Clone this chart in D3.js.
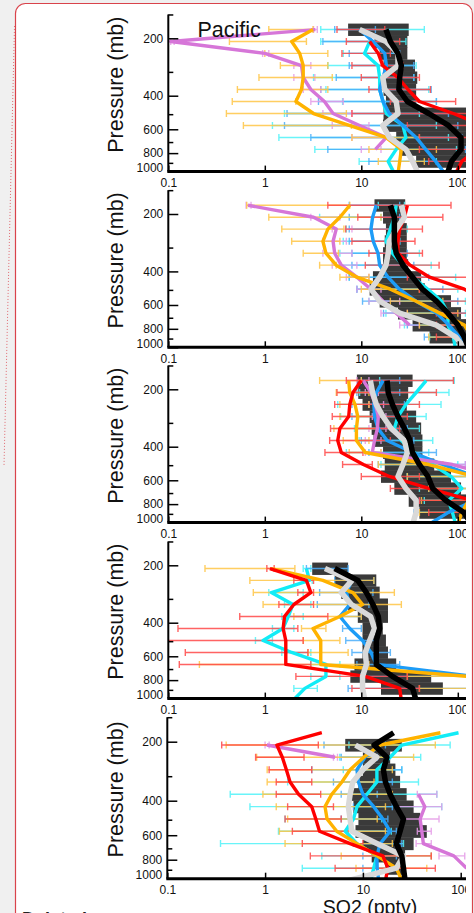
<!DOCTYPE html>
<html>
<head>
<meta charset="utf-8">
<script src="https://cdn.jsdelivr.net/npm/d3@7"></script>
<style>
  html, body { margin: 0; padding: 0; background: #f0f0f0; overflow: hidden; }
  svg { display: block; }
  text { font-family: "Liberation Sans", Arial, Helvetica, sans-serif; }
</style>
</head>
<body>
<svg id="chart" width="474" height="913"></svg>
<script>
'use strict';

// pressure (mb) of the profile levels, top to bottom
const levels = [180, 208, 240, 278, 321, 371, 429, 496, 573, 662, 765, 884, 1022];

const regions = ['Pacific', '', '', '', ''];
const pressureTicks = [200, 400, 600, 800, 1000];
const pressureMinor = [150, 300, 500, 700, 900];
const so2Ticks = [0.1, 1, 10, 100];

// thick black median line, one row per panel (SO2 pptv at each level)
const blackLine = [
  [18, 20, 24, 26, 25, 24.5, 30, 50, 80, 108, 108, 86, 78],
  [20, 22, 22, 22, 23, 27, 34, 43, 60, 79, 100, 117, 130],
  [18.5, 19, 21, 24, 28, 32, 34, 40, 49, 55, 75, 115, 140],
  [null, 5.3, 9.2, 11.3, 13.2, 15, 15.5, 14.3, 14.3, 14.3, 21, 34, 37],
  [20.6, 13, 17.6, 16.2, 17, 19, 22, 26, 24, 22, 25, 26, 27]
];

// thick light grey line
const greyLine = [
  [9.6, 18, 24, 24, 16.7, 17.5, 23, 24, 16.7, 19.5, 29, 34, 39],
  [26, 28, 23, 19.5, 19, 18, 15.5, 12.6, 15.5, 25, 60, 95, 120],
  [12.4, 13.1, 14.3, 16.8, 20.4, 28, 30, 27, 24, 29, 37, 37, 34],
  [null, 4.2, 8, 6.2, 7.9, 12.5, 13.7, 12.2, 11, 11.3, 10.3, 10.3, 10.9],
  [null, 8.4, 13.9, 10, 7.9, 7.4, 7.1, 7.4, 7.7, 13.9, 26, 22, 7]
];

// dark grey boxes: low and high edge per level
const boxLo = [
  [7.3, 13.7, 15.5, 17, 16.8, 17, 18, 17, 16.8, 23, 25, 37],
  [13.7, 16.8, 18, 17.5, 16.8, 16.8, 13.2, 12.2, 15.5, 24, 34, 51],
  [9, 9.3, 10.3, 12.2, 12.8, 13.4, 16.8, 17.5, 16, 22, 31, 40],
  [null, 3.1, 5.3, 6.2, 7.3, 9.2, 10.3, 10.3, 10.3, 8.5, 7.7, 16],
  [null, 6.6, 10, 10, 9, 7.4, 8, 9, 8.4, 10, 12.3, 17]
];
const boxHi = [
  [31, 30, 30, 36, 38, 37, 37, 200, 200, 200, 200, 200],
  [28.5, 27, 29.6, 29.6, 29.6, 30.6, 41.7, 45.5, 85, 108, 200, 200],
  [34, 30.6, 29.6, 37, 41.7, 43, 43, 57, 85, 108, 200, 200],
  [null, 7.3, 14.3, 15.5, 18.9, 18.9, 16.7, 18, 18.9, 23, 53, 70],
  [null, 25, 19, 21.5, 24, 28, 33, 38.6, 45, 33, 27, 26]
];

// coloured profiles
const redLine = [
  [null, 12.2, 15, 16.7, 24, 30.5, 40, 90, 180, 200, 160, 110, 95],
  [30, 28, 25, 24, 24, 32, 51, 117, 200, null, null, null, null],
  [10, 8.2, 7.6, 7.4, 6, 5.7, 6.2, 10.5, 19.5, 50, 140, 160, null],
  [null, 1.13, 2.7, 3.0, 2.0, 1.6, 1.55, 1.65, 1.65, 1.65, 11, 25, 26],
  [3.8, 1.32, 1.5, 1.65, 1.8, 2.2, 3.0, 3.3, 3.6, 7.4, 16, 18, 17]
];
const orangeLine = [
  [3.16, 1.9, 2.3, 2.5, 2.5, 2.4, 2.1, 3.2, 7.5, 18, 26, 25, 24],
  [7.6, 6, 4.5, 4, 4.3, 5.5, 9, 20, 37, 65, 117, 140, null],
  [7.4, 7.6, 8.6, 9.2, 8.9, 8.9, 11, 50, 150, 150, 130, 110, 100],
  [null, 1.17, 4, 8.2, 10.3, 6, 3.16, 3.8, 3.8, 3.8, 130, 150, null],
  [62, 15, 10.2, 7.4, 6.1, 4.8, 4.1, 4.3, 5.4, 8.7, 14, 22, 25]
];
const orchidLine = [
  [3.34, 0.106, 1.0, 2.4, 2.5, 3.0, 4.15, 5.1, 9.6, 18.2, 14, null, null],
  [0.67, 3.2, 5.5, 5.1, 5.3, 6.2, 9, 12.6, 16.8, 23, 31.6, null, null],
  [10.5, 12.6, 14, 15, 14.7, 13.7, 13, 88, 250, null, null, null, null],
  [],
  [null, 1.04, 5.2, null, null, 37, 43, 38.5, 40, 41.5, 85, 115, null]
];
const cyanLine = [
  [null, 12.2, 10.8, 14.9, 15.5, 15.5, 16.8, 18.2, 27, 29, 23, 19, 22],
  [23, 22, 20, 18, 21, 27, 34, 49, 68, 79, 79, 90, 95],
  [47, 37, 29, 24, 22, 26, 35, 55, 85, 110, 80, 88, 95],
  [null, 2.7, 2.9, 1.17, 1.96, 1.75, 1.54, 0.96, 1.9, 4.3, 4.3, 2.6, 1.96],
  [95, 25, 19, 13.9, 13.9, 11, 8.7, 8, 6.6, 8.7, 13.9, 12.9, 12]
];
const blueLine = [
  [9.6, 13.2, 17.5, 18.2, 16.8, 15.5, 16.8, 19.5, 27, 37, 46.5, 59, 73],
  [14.3, 13.1, 12.6, 13.3, 14.9, 15.5, 18.9, 24.8, 37, 60, 81, 104, 117],
  [16.8, 14.3, 13.5, 13.7, 14.9, 18.5, 34, 70, 150, 160, 150, 80, 50],
  [null, null, 8, 7, 7.6, 6, 7.6, 10.3, 12.6, 14.3, 150, null, null],
  [null, 15, 10.5, 8.7, 9, 10, 12.9, 16, 19, 15, 13.9, 14, 14.5]
];

// horizontal error bars [low, high] per level (first 12 levels)
const redBars = [
  [[5.6, 17.5], [7, 25], [6.3, 20], [8, 27], [10, 40], [12, 52], [20, 95], [8, 150], [30, 150], [40, 150], [40, 150], [50, 150]],
  [[4.5, 85], [9.2, 70], [6.9, 43], [8, 36], [12, 43], [11, 64], [30, 150], [40, 150], [60, 150], [60, 150], [60, 150], [60, 150]],
  [[7, 90], [5.6, 60], [5.3, 40], [5, 30], [4.8, 25], [4.7, 20], [4.2, 10.4], [6.4, 13], [10, 40], [20, 100], [40, 150], [50, 150]],
  [null, [1.05, 1.25], [2, 3.2], [2.2, 3.2], [1.4, 3.2], [0.55, 4.5], [0.126, 2.2], [0.08, 2.5], [0.15, 2.8], [0.13, 3], [2.1, 30], [8, 40]],
  [null, [0.36, 3.5], [0.8, 2.5], [1.1, 3], [1.3, 3], [1.3, 3.7], [1.7, 5], [1.6, 6], [1.9, 7], [2.4, 10], [2.9, 50], [5.2, 55]]
];
const orangeBars = [
  [[1.1, 3.16], [0.43, 2.7], [1, 4.5], [1.45, 4.5], [0.87, 5], [0.52, 4.5], [0.46, 2.1], [0.4, 7], [0.6, 7.9], [8, 40], [12, 60], [15, 45]],
  [[0.65, 7.6], [1.1, 16], [1.5, 6.6], [1.9, 6], [2.5, 5.8], [3.7, 5.5], [6, 12], [10, 40], [20, 70], [30, 100], [40, 150], [50, 150]],
  [[3.7, 10], [5.5, 12], [6, 12], [6, 14], [5.2, 15], [6.5, 12], [7.5, 16], [15, 70], [30, 150], [50, 150], [42, 150], [40, 150]],
  [null, [0.24, 2.05], [0.7, 13.5], [0.76, 22], [0.96, 26], [2, 10], [2.4, 4.3], [2.5, 6], [2.8, 7.3], [0.21, 12], [30, 150], [40, 150]],
  [null, [0.4, 55], [0.82, 33], [1.05, 20], [1.05, 13], [0.95, 20], [1.3, 17], [1.7, 14], [1.4, 17], [1.6, 20], [6, 50], [8.5, 45]]
];
const orchidBars = [
  [[3.2, 3.5], [0.106, 0.115], [0.95, 1.1], [2, 3], [2, 3.3], [2.5, 3.8], [3, 6.5], [4, 8], [5, 12], [8, 20], [10, 16], null],
  [[0.64, 0.72], [3, 6], [5, 8], [4, 7], [4, 8], [5, 9], [7, 12], [9, 16], [12, 25], [16, 30], [25, 40], null],
  [[9, 12], [11, 15], [12, 17], [13, 18], [12, 18], [11, 16], [11, 16], [40, 120], null, null, null, null],
  [],
  [null, [1, 1.1], [5, 5.5], null, null, [36, 57], [22, 64], [25, 60], [36, 50], [35, 50], [60, 110], null]
];
const cyanBars = [
  [[3.8, 45], [3.8, 29], [6.5, 24], [4.5, 37], [3.2, 35], [4.3, 50], [6.4, 60], [1.6, 40], [1.2, 60], [1.4, 80], [3.3, 97], [9.5, 60]],
  [[15, 28], [3.7, 16], [7, 30], [6.5, 25], [6, 40], [6, 53], [7.5, 95], [9, 100], [12, 120], [18, 120], [28, 150], [51, 150]],
  [[15.5, 92], [9.6, 81], [5.7, 67], [6.1, 47], [8.5, 40], [9.5, 55], [7, 50], [16, 100], [30, 150], [40, 150], [45, 150], [36, 150]],
  [null, [2.5, 3], [2.7, 3.1], [1.1, 2.5], [1.6, 3], [1.5, 2.5], [1.2, 2], [0.8, 1.2], [1.5, 3], [3, 6], [3, 6], [2, 3.5]],
  [null, [7.2, 78], [5.8, 39], [6.3, 25], [1.7, 37], [0.44, 57], [0.7, 64], [1.6, 15.6], [1.37, 19.5], [0.35, 26], [3.8, 50], [2.4, 27]]
];
const blueBars = [
  [[5.3, 14], [4, 20], [7.5, 25], [7.5, 35], [5.5, 35], [3.8, 53], [3.6, 60], [1.7, 80], [1.6, 100], [3, 110], [4.5, 120], [12, 130]],
  [[7.5, 25], [7.5, 25], [7.5, 20], [7.5, 25], [8, 30], [8, 35], [7.5, 50], [9, 70], [10.3, 100], [17, 150], [30, 150], [45, 150]],
  [[10, 25], [9, 25], [8, 28], [8, 25], [9, 30], [10, 35], [12, 60], [15, 120], [30, 150], [50, 150], [40, 150], [35, 150]],
  [null, [2.7, 7.3], [5.3, 13.5], [3.7, 13.2], [3.5, 12], [6.4, 10], [6.4, 10], [6.9, 15], [8, 20], [9, 25], [10, 150], [7.3, 150]],
  [null, [4, 17], [6, 14], [3, 25], [5, 20], [6, 14], [8, 20], [6, 18], [7, 22], [8, 25], [10, 22], [10, 20]]
];

// where each panel sits in the page
const panelY200 = [38.3, 214, 389.3, 565.3, 741.7];
const panelYDec = [190.7, 190.7, 190.7, 190.7, 196];
const panelX0 = [168.3, 168.3, 168.3, 168.3, 167.3];
const panelXDec = [96.5, 96.5, 96.5, 96.5, 97.8];
const IMG_RIGHT = 466;

const svg = d3.select('#chart');
const defs = svg.append('defs');

// comment balloon frame
svg.append('rect')
  .attr('x', 15.5).attr('y', 3.5).attr('width', 457).attr('height', 1000).attr('rx', 10)
  .attr('fill', '#fff').attr('stroke', '#d9434b').attr('stroke-width', 1.2);
svg.append('line')
  .attr('x1', 14.5).attr('y1', 26).attr('x2', 4).attr('y2', 466)
  .attr('stroke', '#e06a70').attr('stroke-width', 1).attr('stroke-dasharray', '1,2');

defs.append('clipPath').attr('id', 'imgClip')
  .append('rect').attr('x', 0).attr('y', 0).attr('width', IMG_RIGHT).attr('height', 913);
const img = svg.append('g').attr('clip-path', 'url(#imgClip)');

const series = [
  { line: cyanLine, bars: cyanBars, color: '#12ecf6', bar: '#4ff2f8' },
  { line: blueLine, bars: blueBars, color: '#1c9cf7', bar: '#4aaefa' },
  { line: orchidLine, bars: orchidBars, color: '#d676d8', bar: '#e49be6' },
  { line: orangeLine, bars: orangeBars, color: '#ffb300', bar: '#ffc545' },
  { line: redLine, bars: redBars, color: '#ff0000', bar: '#ff4848' }
];

function renderPanel(i) {
  const dec = panelYDec[i];
  const top = panelY200[i] - Math.log10(200 / 150) * dec;
  const bottom = panelY200[i] + Math.log10(1000 / 200) * dec;
  const x0 = panelX0[i];
  const y = d3.scaleLog().domain([150, 1000]).range([top, bottom]);
  const x = d3.scaleLog().domain([0.1, 100]).range([x0, x0 + 3 * panelXDec[i]]);

  const g = img.append('g');
  defs.append('clipPath').attr('id', 'pc' + i)
    .append('rect').attr('x', x0).attr('y', top).attr('width', IMG_RIGHT - x0).attr('height', bottom - top);
  const plot = g.append('g').attr('clip-path', `url(#pc${i})`);

  const half = (y(levels[1]) - y(levels[0])) / 2;

  // dark boxes
  plot.append('g').selectAll('rect')
    .data(boxLo[i].map((lo, k) => ({ lo, hi: boxHi[i][k], p: levels[k] })).filter(d => d.lo != null))
    .enter().append('rect')
    .attr('x', d => x(d.lo))
    .attr('width', d => x(d.hi) - x(d.lo))
    .attr('y', d => y(d.p) - half)
    .attr('height', half * 2 + 0.4)
    .attr('fill', '#3a3a3a');

  // error bars
  series.forEach(s => {
    const rows = (s.bars[i] || []).map((b, k) => b && { lo: b[0], hi: b[1], p: levels[k] }).filter(Boolean);
    plot.append('g').selectAll('path').data(rows).enter().append('path')
      .attr('d', d => {
        const yy = y(d.p), a = x(d.lo), b = x(d.hi);
        return `M${a},${yy}H${b}M${a},${yy - 3.5}V${yy + 3.5}M${b},${yy - 3.5}V${yy + 3.5}`;
      })
      .attr('fill', 'none').attr('stroke', s.bar).attr('stroke-width', 1.4).attr('opacity', 0.85);
  });

  const line = d3.line()
    .defined(d => d[0] != null)
    .x(d => x(d[0]))
    .y(d => y(d[1]));
  const profile = vals => vals.map((v, k) => [v, levels[k]]);

  series.forEach(s => {
    plot.append('path').datum(profile(s.line[i]))
      .attr('d', line).attr('fill', 'none').attr('stroke', s.color)
      .attr('stroke-width', 3.4).attr('stroke-linejoin', 'round');
  });
  plot.append('path').datum(profile(greyLine[i]))
    .attr('d', line).attr('fill', 'none').attr('stroke', '#d9d9d9')
    .attr('stroke-width', 5.5).attr('stroke-linejoin', 'round');
  plot.append('path').datum(profile(blackLine[i]))
    .attr('d', line).attr('fill', 'none').attr('stroke', '#000')
    .attr('stroke-width', 5.5).attr('stroke-linejoin', 'round');

  // axes
  const yAxis = g.append('g').attr('transform', `translate(${x0},0)`)
    .call(d3.axisLeft(y).tickValues(pressureTicks).tickSizeInner(-10).tickSizeOuter(0)
      .tickPadding(5).tickFormat(d3.format('d')));
  yAxis.select('.domain').remove();
  yAxis.selectAll('line').attr('stroke-width', 1.5);
  yAxis.selectAll('text').attr('font-size', 12).attr('fill', '#111')
    .attr('font-family', '"Liberation Sans", Arial, sans-serif')
    .filter(d => d === 1000).attr('y', -4);

  const yMinor = g.append('g').attr('transform', `translate(${x0},0)`)
    .call(d3.axisLeft(y).tickValues(pressureMinor).tickSizeInner(-5).tickSizeOuter(0).tickFormat(() => ''));
  yMinor.select('.domain').remove();
  yMinor.selectAll('line').attr('stroke-width', 1.5);

  const xAxis = g.append('g').attr('transform', `translate(0,${bottom})`)
    .call(d3.axisBottom(x).tickValues(so2Ticks).tickSizeInner(-6).tickSizeOuter(0)
      .tickPadding(7).tickFormat(d => d < 1 ? '0.1' : String(d)));
  xAxis.select('.domain').remove();
  xAxis.selectAll('line').attr('stroke-width', 1.5);
  xAxis.selectAll('text').attr('font-size', 12).attr('fill', '#111')
    .attr('font-family', '"Liberation Sans", Arial, sans-serif');

  g.append('line').attr('x1', x0).attr('x2', x0).attr('y1', top).attr('y2', bottom)
    .attr('stroke', '#000').attr('stroke-width', 2);
  g.append('line').attr('x1', x0 - 1).attr('x2', IMG_RIGHT).attr('y1', bottom).attr('y2', bottom)
    .attr('stroke', '#000').attr('stroke-width', 3);

  g.append('text')
    .attr('transform', `translate(122.5,${y(350)}) rotate(-90)`)
    .attr('text-anchor', 'middle').attr('font-size', 21.5).attr('fill', '#111')
    .text('Pressure (mb)');

  if (regions[i]) {
    g.append('text').attr('x', x0 + 29.2).attr('y', y(196))
      .attr('font-size', 21.5).attr('fill', '#111').text(regions[i]);
  }
}

d3.range(5).forEach(renderPanel);

img.append('text').attr('x', 370).attr('y', 914).attr('text-anchor', 'middle')
  .attr('font-size', 19.5).attr('fill', '#111').text('SO2 (pptv)');

svg.append('text').attr('x', 22).attr('y', 925).attr('font-size', 18)
  .attr('font-weight', 'bold').attr('fill', '#222').text('Deleted');
</script>
</body>
</html>
